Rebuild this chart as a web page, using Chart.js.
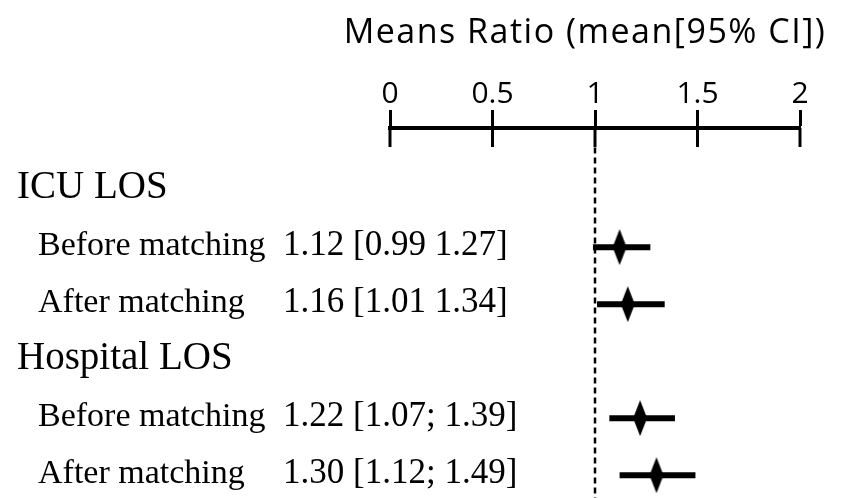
<!DOCTYPE html>
<html>
<head>
<meta charset="utf-8">
<script src="https://cdn.jsdelivr.net/npm/chart.js@4"></script>
<style>
  body { margin: 0; background: #fff; }
</style>
</head>
<body>
<canvas id="forest" width="841" height="498"></canvas>
<script>
// data
const groups = ["ICU LOS", "Hospital LOS"];
const groupRows = [0, 3];
const rowLabels = ["Before matching", "After matching", "Before matching", "After matching"];
const rows = [1, 2, 4, 5];
const means = [1.12, 1.16, 1.22, 1.30];
const lower = [0.99, 1.01, 1.07, 1.12];
const upper = [1.27, 1.34, 1.39, 1.49];
const ciText = ["1.12 [0.99 1.27]", "1.16 [1.01 1.34]", "1.22 [1.07; 1.39]", "1.30 [1.12; 1.49]"];
const xTicks = [0, 0.5, 1, 1.5, 2];
const refValue = 1;

const sans = "'Open Sans', 'Noto Sans', sans-serif";
const serif = "'Liberation Serif', 'DejaVu Serif', serif";

// tall thin diamond for the means
const diamond = document.createElement("canvas");
diamond.width = 14;
diamond.height = 36;
{
  const c = diamond.getContext("2d");
  c.fillStyle = "#000";
  c.beginPath();
  c.moveTo(7, 0);
  c.lineTo(14, 18);
  c.lineTo(7, 36);
  c.lineTo(0, 18);
  c.closePath();
  c.fill();
}

const ciSets = rows.map((r, i) => ({
  data: [{ x: lower[i], y: r }, { x: upper[i], y: r }],
  showLine: true,
  borderColor: "#000",
  borderWidth: 6,
  borderCapStyle: "butt",
  pointRadius: 0,
}));

// ticks below the axis line + the text columns on the left
const sidePlugin = {
  id: "side",
  afterDraw(chart) {
    const { ctx, chartArea } = chart;
    const xs = chart.scales.x;
    const ys = chart.scales.y;
    ctx.save();
    ctx.strokeStyle = "#000";
    ctx.lineWidth = 3;
    xTicks.forEach((v) => {
      const px = xs.getPixelForValue(v);
      ctx.beginPath();
      ctx.moveTo(px, chartArea.top);
      ctx.lineTo(px, chartArea.top + 19);
      ctx.stroke();
    });

    ctx.fillStyle = "#000";
    ctx.textAlign = "left";
    ctx.textBaseline = "alphabetic";
    ctx.font = "39px " + serif;
    groups.forEach((g, i) => {
      ctx.fillText(g, 17, ys.getPixelForValue(groupRows[i]) + 8);
    });
    rowLabels.forEach((l, i) => {
      const py = ys.getPixelForValue(rows[i]) + 8;
      ctx.font = "34px " + serif;
      ctx.fillText(l, 38, py);
      ctx.font = "35px " + serif;
      ctx.fillText(ciText[i], 283, py);
    });
    ctx.restore();
  },
};

// axis title is wider than the axis itself: Chart.js squeezes it to the
// axis width, so give it more room (and a touch of spacing) while it draws
function widenTitle(scale) {
  scale.height = 128;
  if (scale._wide) return;
  scale._wide = true;
  const drawTitle = scale.drawTitle.bind(scale);
  scale.drawTitle = () => {
    const ctx = scale.ctx;
    const { left, right } = scale;
    const old = ctx.letterSpacing;
    scale.left = 329;
    scale.right = 841;
    ctx.letterSpacing = "1.5px";
    drawTitle();
    ctx.letterSpacing = old;
    scale.left = left;
    scale.right = right;
  };
}

new Chart(document.getElementById("forest").getContext("2d"), {
  type: "scatter",
  data: {
    datasets: [
      {
        data: means.map((m, i) => ({ x: m, y: rows[i] })),
        pointStyle: diamond,
        pointRadius: 18,
        backgroundColor: "#000",
        borderColor: "#000",
      },
      ...ciSets,
      {
        data: [{ x: refValue, y: -0.75 }, { x: refValue, y: 5.4 }],
        showLine: true,
        borderColor: "#000",
        borderWidth: 2.5,
        borderDash: [6, 4],
        pointRadius: 0,
      },
    ],
  },
  options: {
    responsive: false,
    animation: false,
    events: [],
    layout: { autoPadding: false, padding: { left: 390, right: 41, top: 0, bottom: 0 } },
    plugins: { legend: { display: false }, tooltip: { enabled: false } },
    scales: {
      x: {
        type: "linear",
        position: "top",
        min: 0,
        max: 2,
        afterFit: widenTitle,
        afterBuildTicks: (scale) => { scale.ticks = xTicks.map((v) => ({ value: v })); },
        ticks: {
          color: "#000",
          font: { family: sans, size: 30 },
          padding: -2,
          callback: (v) => String(v),
        },
        grid: { drawOnChartArea: false, color: "#000", tickLength: 18, tickWidth: 3 },
        border: { color: "#000", width: 4 },
        title: {
          display: true,
          text: "Means Ratio (mean[95% CI])",
          color: "#000",
          font: { family: sans, size: 34 },
          padding: { top: 13, bottom: 0 },
        },
      },
      y: {
        type: "linear",
        reverse: true,
        min: -1.09,
        max: 5.4,
        display: false,
      },
    },
  },
  plugins: [sidePlugin],
});
</script>
</body>
</html>
